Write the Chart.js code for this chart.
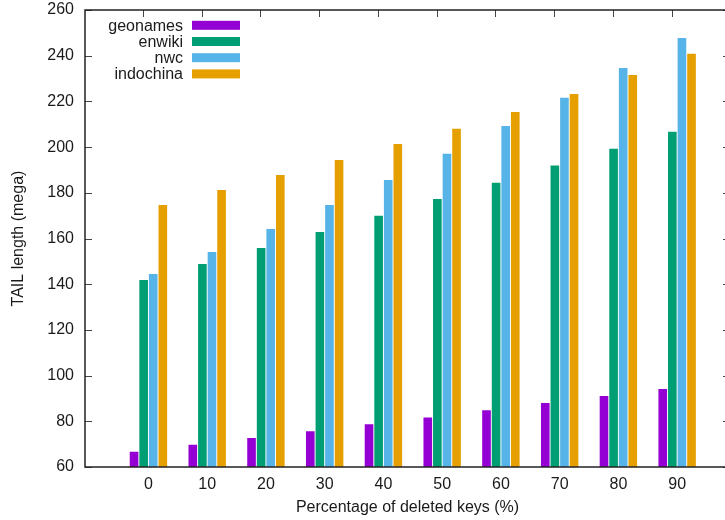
<!DOCTYPE html>
<html>
<head>
<meta charset="utf-8">
<script src="https://cdn.jsdelivr.net/npm/chart.js@4/dist/chart.umd.min.js"></script>
<style>
  html, body { margin:0; padding:0; background:#fff; overflow:hidden; }
  #wrap { width:740px; height:520px; }
</style>
</head>
<body>
<div id="wrap"><canvas id="c" width="740" height="520"></canvas></div>
<script>
// values
const categories = [0, 10, 20, 30, 40, 50, 60, 70, 80, 90];
const geonames  = [66.7, 69.7, 72.7, 75.6, 78.7, 81.7, 84.8, 88.0, 91.1, 94.1];
const enwiki    = [141.8, 148.8, 155.8, 162.8, 170.0, 177.3, 184.4, 191.9, 199.3, 206.7];
const nwc       = [144.5, 154.1, 164.2, 174.7, 185.6, 197.1, 209.2, 221.6, 234.6, 247.7];
const indochina = [174.7, 181.2, 187.8, 194.4, 201.4, 208.0, 215.4, 223.2, 231.6, 240.9];
const yTicks = [60, 80, 100, 120, 140, 160, 180, 200, 220, 240, 260];

const FONT = "'Liberation Sans', Arial, sans-serif";
const TXT = "#1a1a1a";

// inward ticks + frame, gnuplot style
const framePlugin = {
  id: "frame",
  beforeDatasetsDraw(chart){
    const {ctx, chartArea:a, scales:{x, y}} = chart;
    ctx.save();
    ctx.strokeStyle = "#444";
    ctx.lineWidth = 1;
    ctx.beginPath();
    yTicks.forEach(v=>{
      const py = Math.round(y.getPixelForValue(v)) + 0.5;
      ctx.moveTo(a.left, py); ctx.lineTo(a.left + 7, py);
      ctx.moveTo(a.right, py); ctx.lineTo(a.right - 7, py);
    });
    categories.forEach(c=>{
      const px = Math.round(x.getPixelForValue(c) - 5.5) + 0.5;
      ctx.moveTo(px, a.top); ctx.lineTo(px, a.top + 7);
      ctx.moveTo(px, a.bottom); ctx.lineTo(px, a.bottom - 7);
    });
    ctx.stroke();
    ctx.restore();
  },
  afterDatasetsDraw(chart){
    const {ctx, chartArea:a} = chart;
    ctx.save();
    ctx.strokeStyle = "#222";
    ctx.lineWidth = 1.5;
    ctx.strokeRect(a.left, a.top, a.right - a.left, a.bottom - a.top);
    ctx.restore();
  }
};

// key in the top left corner: text first, then the colour sample
const keyPlugin = {
  id: "key",
  afterDraw(chart){
    const ctx = chart.ctx;
    ctx.save();
    ctx.font = "16px " + FONT;
    ctx.textAlign = "right";
    ctx.textBaseline = "middle";
    chart.data.datasets.forEach((ds, i)=>{
      const cy = 25.3 + i * 16.2;
      ctx.fillStyle = TXT;
      ctx.fillText(ds.label, 183, cy + 1);
      ctx.fillStyle = ds.backgroundColor;
      ctx.fillRect(192, cy - 4.5, 48, 9);
    });
    ctx.restore();
  }
};

function bars(label, data, color){
  return { label, data, backgroundColor: color, borderWidth: 0,
           categoryPercentage: 0.653, barPercentage: 0.9 };
}

new Chart(document.getElementById("c").getContext("2d"), {
  type: "bar",
  data: {
    labels: categories,
    datasets: [
      bars("geonames", geonames, "#9400D3"),
      bars("enwiki", enwiki, "#009E73"),
      bars("nwc", nwc, "#56B4E9"),
      bars("indochina", indochina, "#E69F00")
    ]
  },
  options: {
    responsive: false,
    animation: false,
    devicePixelRatio: 1,
    layout: { padding: { left: 0, top: 10, right: 10, bottom: 0 } },
    plugins: { legend: { display: false }, tooltip: { enabled: false } },
    scales: {
      x: {
        type: "linear",
        offset: false,
        min: -10.8, max: 99,
        afterBuildTicks(s){ s.ticks = categories.map(v=>({value:v})); },
        afterFit(s){ s.height = 53; s.paddingLeft = 0; s.paddingRight = 0; },
        grid: { display: false, drawTicks: false, offset: false },
        border: { display: false },
        ticks: { color: TXT, font: { family: FONT, size: 16 }, padding: 8, maxRotation: 0,
                 callback: v => String(v) },
        title: { display: true, text: "Percentage of deleted keys (%)", color: TXT,
                 font: { family: FONT, size: 16 }, padding: { top: 0, bottom: 2.4 } }
      },
      y: {
        min: 60, max: 260,
        afterBuildTicks(s){ s.ticks = yTicks.map(v=>({value:v})); },
        afterFit(s){ s.width = 85; s.paddingTop = 0; s.paddingBottom = 0; },
        grid: { display: false, drawTicks: false },
        border: { display: false },
        ticks: { color: TXT, font: { family: FONT, size: 16 }, padding: 11 },
        title: { display: true, text: "TAIL length (mega)", color: TXT,
                 font: { family: FONT, size: 16 }, padding: { top: 8.7, bottom: 0 } }
      }
    }
  },
  plugins: [framePlugin, keyPlugin]
});
</script>
</body>
</html>
